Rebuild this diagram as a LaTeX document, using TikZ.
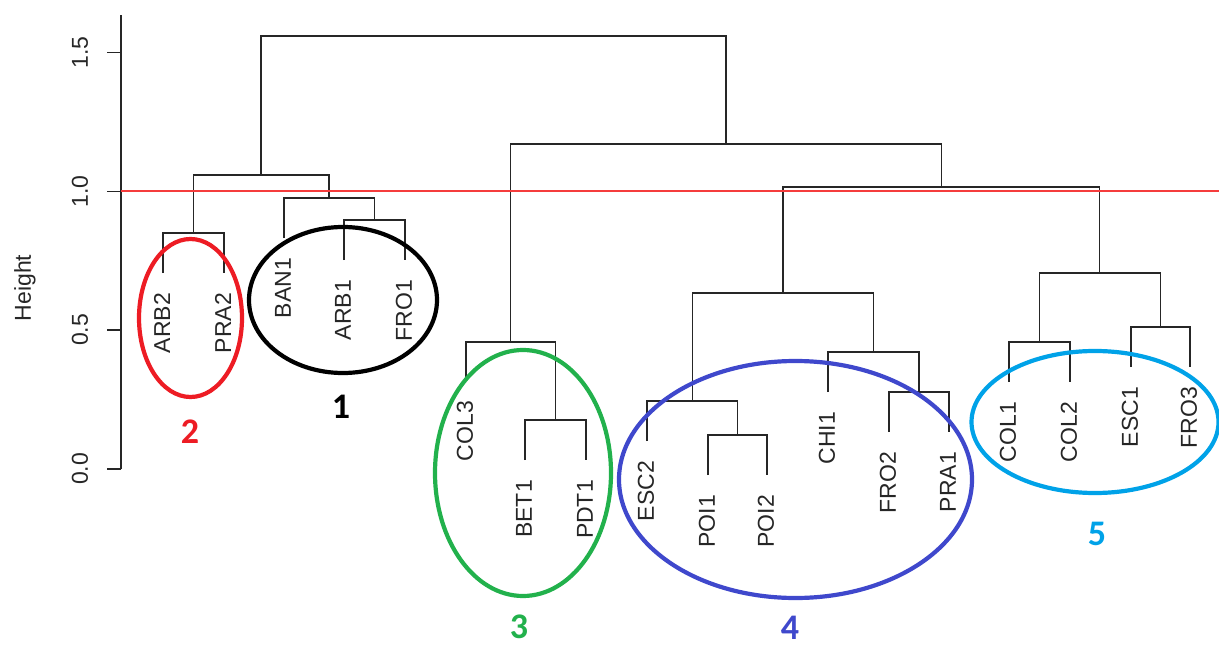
\documentclass[tikz,border=0pt]{standalone}
\usepackage{fontspec}
\setmainfont{Liberation Sans}
\newfontfamily\numfont{Carlito}
\definecolor{levelred}{RGB}{245,60,60}
\definecolor{gred}{HTML}{ED1C24}
\definecolor{ggreen}{HTML}{22B14C}
\definecolor{gblue}{HTML}{3F48CC}
\definecolor{gcyan}{HTML}{00A2E8}
\begin{document}
\begin{tikzpicture}[x=1pt,y=-1pt,
  tree/.style={draw=black!85, line width=1.4pt},
  leaflab/.style={rotate=90, anchor=east, inner sep=0pt, text=black!85,
    font=\fontsize{23}{23}\selectfont},
  ticklab/.style={rotate=90, inner sep=0pt, text=black!85,
    font=\fontsize{23}{23}\selectfont},
  level/.style={color=levelred, line width=1.8pt},
  ring/.style={line width=4.2pt},
  grp/.style={inner sep=0pt, font=\numfont\bfseries\fontsize{36}{36}\selectfont}]
\useasboundingbox (0,0) rectangle (1219,650);

% y axis
\coordinate (ax0) at (121,469);
\coordinate (ax1) at (121,15);
\draw[tree] (ax0) -- (ax1);
\foreach \k/\v/\h in {a/0.0/469, b/0.5/330, c/1.0/191.5, d/1.5/52.5}{
  \coordinate (t\k) at (121,\h);
  \coordinate (u\k) at (107,\h);
  \draw[tree] (t\k) -- (u\k);
  \node[ticklab] (tl\k) at (80,\h) {\v};
}
\node[ticklab] (ylab) at (25,288) {Height};

% leaves: name / x / end of branch
\foreach \n/\x/\e in {ARB2/163/273, PRA2/224/273, BAN1/284/238, ARB1/344/260,
  FRO1/405/260, COL3/466/381, BET1/525/460, PDT1/586/460, ESC2/647/441,
  POI1/708/475, POI2/767/475, CHI1/828/392, FRO2/889/432, PRA1/949/432,
  COL1/1009/382, COL2/1070/382, ESC1/1131/367, FRO3/1190/367}{
  \coordinate (\n) at (\x,\e);
  \node[leaflab] (lab\n) at (\x-1,\e+20) {\n};
}

% merge points
\coordinate (m1)  at (193.5,233);
\coordinate (m2)  at (374.5,220);
\coordinate (m3)  at (329,198);
\coordinate (m4)  at (261,175);
\coordinate (m5)  at (555.5,420);
\coordinate (m6)  at (510.75,342);
\coordinate (m7)  at (737.5,435);
\coordinate (m8)  at (692.25,401);
\coordinate (m9)  at (919,392);
\coordinate (m10) at (873.5,352);
\coordinate (m11) at (782.9,293);
\coordinate (m12) at (1039.5,342);
\coordinate (m13) at (1160.5,327);
\coordinate (m14) at (1099.75,273);
\coordinate (m15) at (941.3,187);
\coordinate (m16) at (726,144);
\coordinate (m17) at (493.5,36);

\foreach \a/\p/\b in {ARB2/m1/PRA2, ARB1/m2/FRO1, BAN1/m3/m2, m1/m4/m3,
  BET1/m5/PDT1, COL3/m6/m5, POI1/m7/POI2, ESC2/m8/m7, FRO2/m9/PRA1,
  CHI1/m10/m9, m8/m11/m10, COL1/m12/COL2, ESC1/m13/FRO3, m12/m14/m13,
  m11/m15/m14, m6/m16/m15, m4/m17/m16}{
  \draw[tree] (\a) |- (\p) -| (\b);
}

% cut level, drawn over the tree
\coordinate (cutL) at (121,191);
\coordinate (cutR) at (1219,191);
\draw[level] (cutL) -- (cutR);

% groups
\draw[ring, gred]   (190.5,318) ellipse [x radius=51.5, y radius=79];
\draw[ring, black]  (343,300)   ellipse [x radius=94, y radius=73];
\draw[ring, ggreen] (523,473)   ellipse [x radius=88, y radius=123];
\draw[ring, gblue]  (795.5,479.5) ellipse [x radius=176.5, y radius=118.5];
\draw[ring, gcyan]  (1095,422)  ellipse [x radius=123.5, y radius=71];

\node[grp, text=gred]   (g2) at (190,432)  {2};
\node[grp, text=black]  (g1) at (341,407)  {1};
\node[grp, text=ggreen] (g3) at (519,627)  {3};
\node[grp, text=gblue]  (g4) at (790,628)  {4};
\node[grp, text=gcyan]  (g5) at (1097,534) {5};
\end{tikzpicture}
\end{document}
